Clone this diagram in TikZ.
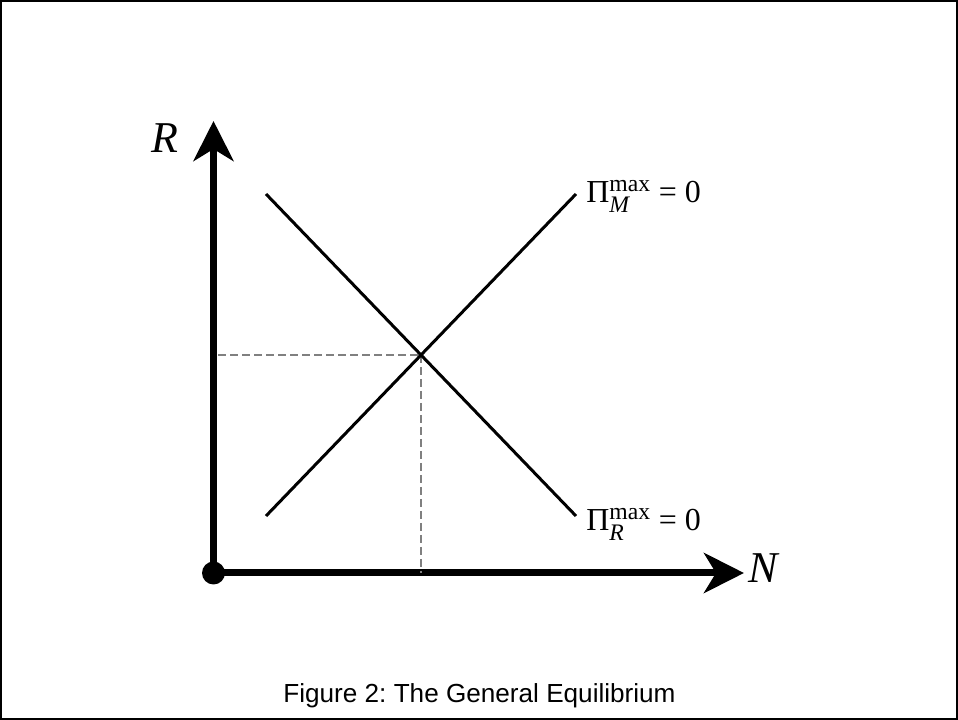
\documentclass[tikz,border=0pt]{standalone}
\usepackage{amsmath}
\usepackage{mathptmx}
\usepackage[no-math]{fontspec}
\setmainfont{Liberation Serif}
\newfontfamily\capfont{Liberation Sans}
\usepackage{tikz}
\usetikzlibrary{arrows.meta,positioning}
\frenchspacing

\begin{document}
\begin{tikzpicture}[
  x=0.75pt,y=-0.75pt,
  axis/.style={line width=5.25pt,-{Stealth[length=30pt,width=30pt,inset=9pt]}},
  curve/.style={line width=2.25pt},
  guide/.style={gray,line width=1pt,dash pattern=on 6pt off 3pt},
  axlabel/.style={inner sep=0pt,font=\fontsize{33}{33}\selectfont},
  eqlabel/.style={inner sep=0pt,anchor=base west,font=\fontsize{24}{24}\selectfont}
]
\useasboundingbox (0,0) rectangle (958,720);
\draw[line width=1.5pt] (1,1) rectangle (957,719);

% axes
\coordinate (O) at (213.5,573);
\coordinate (Rtop) at (213.5,121);
\coordinate (Nend) at (744,573);
\draw[axis] (O)--(Rtop);
\draw[axis] (O)--(Nend);
\fill (O) circle (8.6pt);
\node[axlabel,anchor=base west] (Rlab) at (151,153) {\textit{R}};
\node[axlabel,anchor=base west] (Nlab) at (748,583) {\textit{N}};

% curves
\coordinate (a1) at (266,194);
\coordinate (a2) at (576,516);
\coordinate (b1) at (266,516);
\coordinate (b2) at (576,194);
\coordinate (eq) at (421,355);
\coordinate (eqR) at (218,355);
\coordinate (eqN) at (421,573);
\draw[guide] (eqR)--(eq);
\draw[guide] (eq)--(eqN);
\draw[curve] (a1)--(a2);
\draw[curve] (b1)--(b2);
\node[eqlabel] (piM) at (586,203) {$\text{Π}^{\text{max}}_{\textit{M}}\text{ = 0}$};
\node[eqlabel] (piR) at (586,531) {$\text{Π}^{\text{max}}_{\textit{R}}\text{ = 0}$};

\node[inner sep=0pt,anchor=base,font=\capfont\fontsize{19.6}{20}\selectfont] (cap) at (479.5,702) {Figure 2: The General Equilibrium};
\end{tikzpicture}
\end{document}
